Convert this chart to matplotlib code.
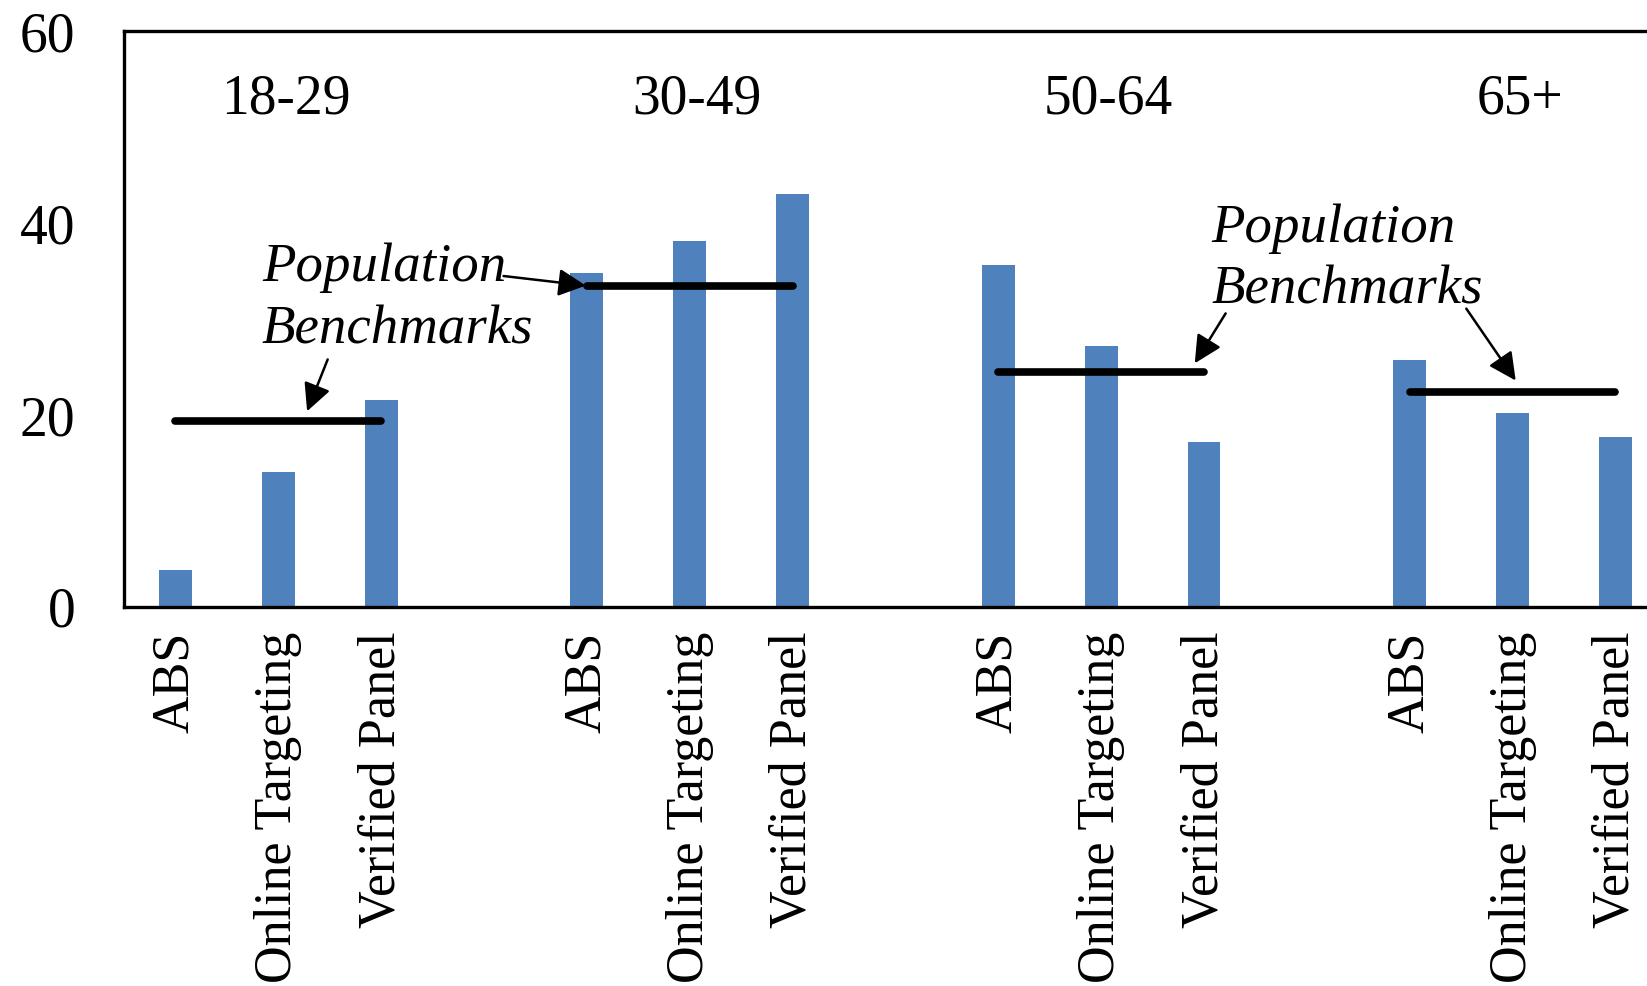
import matplotlib
matplotlib.use("Agg")
import matplotlib.pyplot as plt
import numpy as np

# ---- data ----
age_groups = ["18-29", "30-49", "50-64", "65+"]
sources = ["ABS", "Online Targeting", "Verified Panel"]
abs_vals = [3.8, 34.8, 35.6, 25.7]
online_vals = [14.1, 38.2, 27.2, 20.2]
verified_vals = [21.6, 43.0, 17.2, 17.7]
benchmarks = [19.4, 33.5, 24.5, 22.4]
y_ticks = [0, 20, 40, 60]

plt.rcParams['font.family'] = ['Liberation Serif', 'DejaVu Serif']

fig = plt.figure(figsize=(16.47, 9.86), dpi=100)
ax = fig.add_axes([0.0753, 0.3845, 0.968, 0.5836])

bar_color = "#4F81BD"
positions = []
labels = []
heights = []
for g in range(len(age_groups)):
    base = g * 4
    for s, vals in enumerate([abs_vals, online_vals, verified_vals]):
        positions.append(base + s)
        labels.append(sources[s])
        heights.append(vals[g])

ax.bar(positions, heights, width=0.32, color=bar_color, zorder=2)

# benchmark lines
for g, b in enumerate(benchmarks):
    ax.plot([g * 4, g * 4 + 2], [b, b], color="black", lw=5.5,
            solid_capstyle="round", zorder=3)

# group labels
for g, name in enumerate(age_groups):
    ax.text(g * 4 + 1.07, 51.4, name, ha="center", va="baseline", fontsize=40)

ax.set_xlim(-0.5, 15.0)
ax.set_ylim(0, 60)
ax.set_yticks(y_ticks)
ax.set_xticks(positions)
ax.set_xticklabels(labels, rotation=90, fontsize=37.5)
ax.tick_params(axis="y", length=0, pad=35, labelsize=40)
ax.tick_params(axis="x", length=0, pad=18)
for sp in ax.spines.values():
    sp.set_linewidth(2.4)

# annotations
akw = dict(arrowstyle="-|>", lw=1.8, color="black", mutation_scale=42,
           shrinkA=0, shrinkB=0)
ax.text(0.84, 27.5, "Population\nBenchmarks", style="italic", fontsize=39.5,
        ha="left", va="baseline", linespacing=1.29, zorder=4)
ax.annotate("", xy=(1.28, 20.4), xytext=(1.48, 25.8), arrowprops=akw)
ax.annotate("", xy=(3.99, 33.5), xytext=(3.19, 34.5), arrowprops=akw)

ax.text(10.07, 31.65, "Population\nBenchmarks", style="italic", fontsize=39.5,
        ha="left", va="baseline", linespacing=1.29, zorder=4)
ax.annotate("", xy=(9.91, 25.4), xytext=(10.21, 30.6), arrowprops=akw)
ax.annotate("", xy=(13.03, 23.6), xytext=(12.55, 31.1), arrowprops=akw)

fig.savefig("out.png", dpi=100)
